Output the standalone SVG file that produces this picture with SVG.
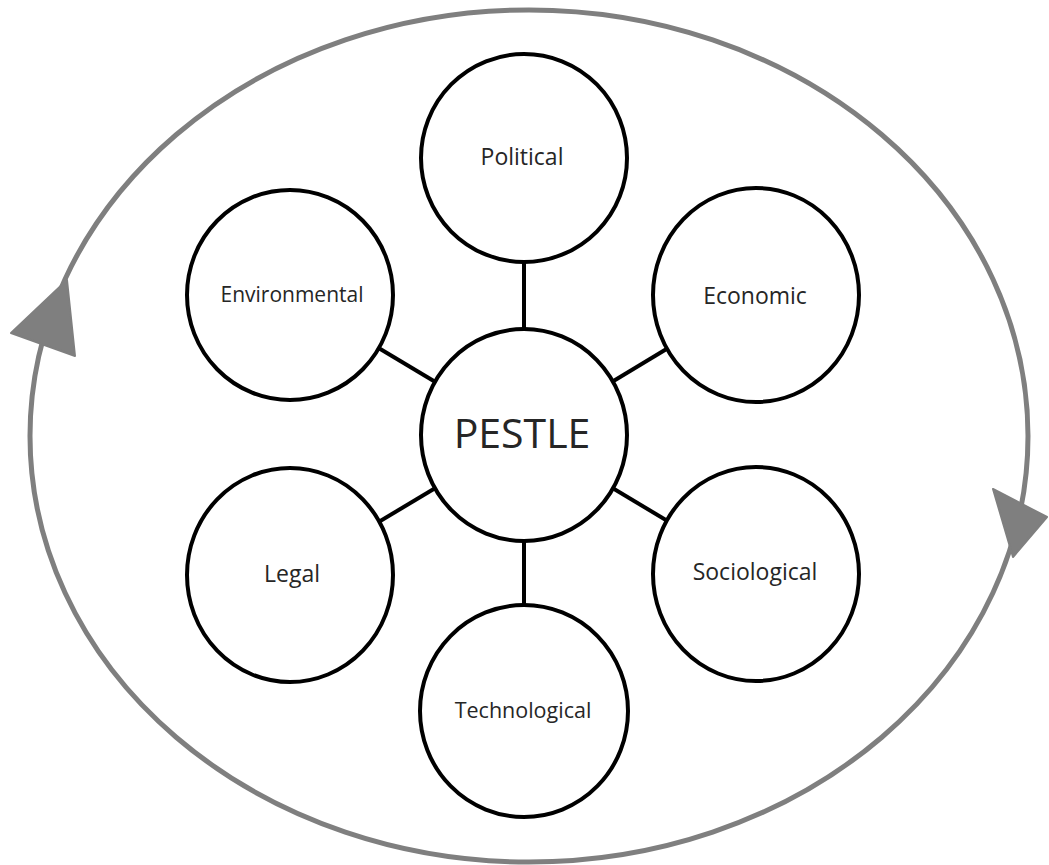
<svg xmlns="http://www.w3.org/2000/svg" width="1049" height="865" viewBox="0 0 1049 865">
<style>
.outer{fill:none;stroke:#7f7f7f;stroke-width:5}
.arrow{fill:#7f7f7f;stroke:#7f7f7f;stroke-width:2;stroke-linejoin:round}
.conn{stroke:#000;stroke-width:4}
.node{fill:#fff;stroke:#000;stroke-width:4}
.lbl{font-family:"Open Sans","Liberation Sans",sans-serif;fill:#262626;text-anchor:middle}
</style>
<rect width="1049" height="865" fill="#fff"/>
<g id="cycle">
<ellipse class="outer" cx="529" cy="436" rx="499" ry="426"/>
<polygon class="arrow" points="67,280 11,333 75,356"/>
<polygon class="arrow" points="993,489 1047,517 1013,557"/>
</g>
<g id="connectors">
<line class="conn" x1="524" y1="158" x2="524" y2="435"/>
<line class="conn" x1="524" y1="711" x2="524" y2="435"/>
<line class="conn" x1="756" y1="295" x2="524" y2="435"/>
<line class="conn" x1="756" y1="574" x2="524" y2="435"/>
<line class="conn" x1="290" y1="295" x2="524" y2="435"/>
<line class="conn" x1="290" y1="575" x2="524" y2="435"/>
</g>
<g id="pestle"><ellipse class="node" cx="524" cy="435" rx="103" ry="106"/><text class="lbl" x="522" y="448" font-size="41">PESTLE</text></g>
<g id="political"><ellipse class="node" cx="524" cy="158" rx="103" ry="104"/><text class="lbl" x="522" y="165" font-size="23">Political</text></g>
<g id="economic"><ellipse class="node" cx="756" cy="295" rx="103" ry="107"/><text class="lbl" x="755" y="304" font-size="23">Economic</text></g>
<g id="sociological"><ellipse class="node" cx="756" cy="574" rx="103" ry="107"/><text class="lbl" x="755" y="580" font-size="23">Sociological</text></g>
<g id="technological"><ellipse class="node" cx="524" cy="711" rx="104" ry="106"/><text class="lbl" x="523" y="718" font-size="21.5">Technological</text></g>
<g id="legal"><ellipse class="node" cx="290" cy="575" rx="103" ry="107"/><text class="lbl" x="292" y="582" font-size="23">Legal</text></g>
<g id="environmental"><ellipse class="node" cx="290" cy="295" rx="103" ry="105"/><text class="lbl" x="292" y="302" font-size="21">Environmental</text></g>
</svg>
